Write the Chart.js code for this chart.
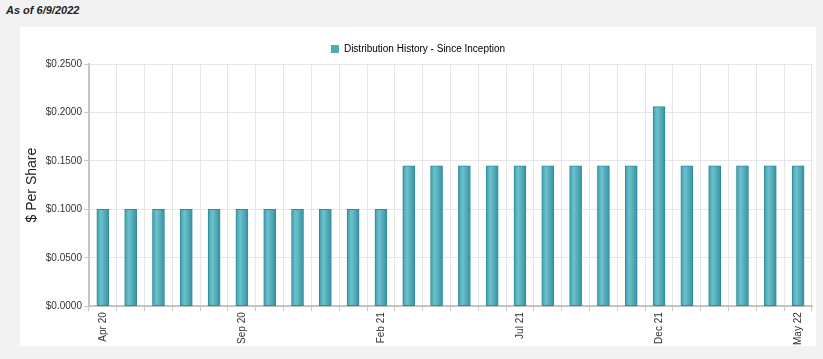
<!DOCTYPE html>
<html>
<head>
<meta charset="utf-8">
<script src="https://cdn.jsdelivr.net/npm/chart.js@4.4.0/dist/chart.umd.min.js"></script>
<style>
  html, body { margin: 0; padding: 0; background: #f2f2f2; width: 823px; height: 359px; overflow: hidden; }
  .asof { position: absolute; left: 6px; top: 4px; font: italic bold 11px Arial, "Liberation Sans", sans-serif; color: #222; }
  .panel { position: absolute; left: 20px; top: 27px; width: 796px; height: 319px; background: #fff; }
</style>
</head>
<body>
<div class="asof">As of 6/9/2022</div>
<div class="panel"><canvas id="chart" width="796" height="319"></canvas></div>
<script>
// ===== Data =====
const months = ['Apr 20', 'May 20', 'Jun 20', 'Jul 20', 'Aug 20', 'Sep 20', 'Oct 20', 'Nov 20', 'Dec 20',
  'Jan 21', 'Feb 21', 'Mar 21', 'Apr 21', 'May 21', 'Jun 21', 'Jul 21', 'Aug 21', 'Sep 21', 'Oct 21',
  'Nov 21', 'Dec 21', 'Jan 22', 'Feb 22', 'Mar 22', 'Apr 22', 'May 22'];
const perShare = [0.1, 0.1, 0.1, 0.1, 0.1, 0.1, 0.1, 0.1, 0.1, 0.1, 0.1,
  0.145, 0.145, 0.145, 0.145, 0.145, 0.145, 0.145, 0.145, 0.145,
  0.206, 0.145, 0.145, 0.145, 0.145, 0.145];
const seriesName = 'Distribution History - Since Inception';

const font = "Arial, 'Liberation Sans', sans-serif";
const text = '#333';

// horizontal gradient across each bar
function barFill(ctx) {
  const chart = ctx.chart;
  const xs = chart.scales.x;
  if (!chart.chartArea || !xs || ctx.dataIndex === undefined) return '#4aabb9';
  const cx = xs.getPixelForValue(ctx.dataIndex);
  const g = chart.ctx.createLinearGradient(cx - 6, 0, cx + 6, 0);
  g.addColorStop(0, '#3f9fae');
  g.addColorStop(0.35, '#6cc2ce');
  g.addColorStop(1, '#3792a1');
  return g;
}

new Chart(document.getElementById('chart'), {
  type: 'bar',
  data: {
    labels: months,
    datasets: [{
      label: seriesName,
      data: perShare,
      backgroundColor: barFill,
      borderColor: '#2e8a99',
      borderWidth: 1,
      borderSkipped: false,
      barThickness: 12
    }]
  },
  options: {
    responsive: false,
    animation: false,
    layout: { padding: { left: 4, right: 4, top: 0, bottom: 0 } },
    plugins: {
      legend: {
        labels: {
          color: text,
          font: { family: font, size: 10 },
          boxWidth: 8,
          boxHeight: 8,
          padding: 17,
          generateLabels: () => [{ text: seriesName, fillStyle: '#4aabb9', strokeStyle: '#4aabb9', lineWidth: 0 }]
        }
      },
      tooltip: { enabled: false }
    },
    scales: {
      x: {
        grid: { color: '#e6e6e6', tickLength: 5, tickColor: '#c8c8c8', offset: true },
        border: { color: '#c4c4c4', width: 2 },
        ticks: {
          color: text,
          font: { family: font, size: 10 },
          autoSkip: false,
          minRotation: 90,
          maxRotation: 90,
          padding: 1,
          callback: (v, i) => i % 5 === 0 ? months[i] : ''
        }
      },
      y: {
        min: 0,
        max: 0.25,
        grid: { color: '#e6e6e6', tickLength: 5, tickColor: '#c8c8c8' },
        border: { color: '#c4c4c4', width: 2 },
        ticks: {
          stepSize: 0.05,
          color: text,
          font: { family: font, size: 10 },
          padding: 2,
          callback: v => '$' + v.toFixed(4)
        },
        title: { display: true, text: '$ Per Share', color: '#222', font: { family: font, size: 14 }, padding: { top: 0, bottom: 3 } }
      }
    }
  }
});
</script>
</body>
</html>
